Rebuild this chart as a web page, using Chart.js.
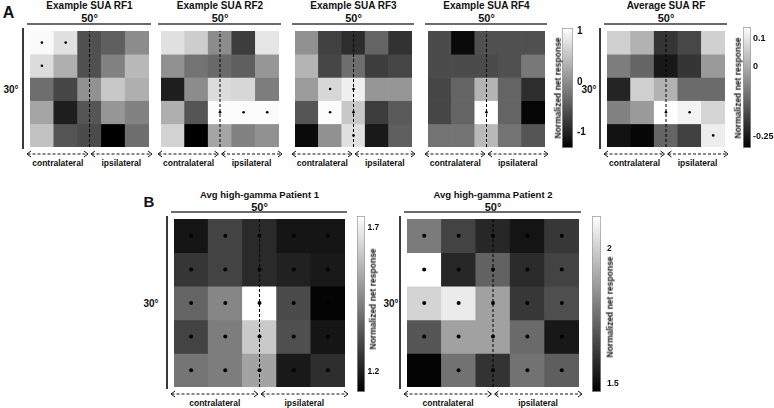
<!DOCTYPE html>
<html><head><meta charset="utf-8">
<script src="https://cdn.jsdelivr.net/npm/chart.js@4.4.0/dist/chart.umd.min.js"></script>
<style>
html,body{margin:0;padding:0;background:#fff;}
#root{position:relative;width:774px;height:408px;overflow:hidden;font-family:"Liberation Sans",Arial,sans-serif;font-weight:bold;color:#111;}
#root canvas{position:absolute;}
.t{position:absolute;white-space:nowrap;transform:translate(-50%,-50%);line-height:1;}
.r{transform:translate(-50%,-50%) rotate(-90deg);}
#deco{position:absolute;left:0;top:0;}
</style></head><body><div id="root"><svg id="deco" width="774" height="408"></svg></div>
<script>
// ---------- data ----------
const columns = ['c1', 'c2', 'c3', 'c4', 'c5'];

const rf1Values = [
  [1.01, 0.78, -0.56, -0.42, 0.00],
  [0.74, 0.32, -0.56, -0.10, 0.41],
  [-0.28, -0.65, 0.04, 0.55, 0.32],
  [0.23, -1.02, -0.51, 0.09, -0.10],
  [0.50, -0.51, -0.61, -1.30, -0.28]
];
const rf2Values = [
  [0.78, 0.60, 0.00, -0.74, 0.83],
  [0.04, -0.24, -0.33, -0.42, 0.09],
  [-1.02, 0.00, 0.74, 0.69, -0.14],
  [0.32, -0.51, 1.03, 1.03, 1.03],
  [0.64, -1.30, 0.23, -0.10, 0.04]
];
const rf3Values = [
  [0.04, -0.70, -0.88, -0.37, -0.84],
  [0.37, -0.65, -0.28, -0.74, -0.65],
  [0.13, 0.69, 0.92, 0.09, 0.09],
  [-0.51, 1.03, 0.55, -0.74, -0.47],
  [-1.21, 0.04, 0.78, -1.07, -0.42]
];
const rf4Values = [
  [-0.61, -1.21, -0.56, -0.56, -0.56],
  [-0.61, -0.61, -0.61, -0.56, -0.19],
  [-0.65, -0.37, 0.37, -0.37, -0.88],
  [-0.65, -0.37, 1.06, -0.37, -1.25],
  [-0.24, -0.24, 0.41, -0.24, -0.51]
];
const avgValues = [
  [0.06, 0.01, -0.20, -0.17, 0.06],
  [-0.08, -0.12, -0.25, -0.20, -0.03],
  [-0.23, 0.06, 0.01, -0.11, -0.11],
  [-0.07, -0.03, 0.14, 0.12, 0.07],
  [-0.26, -0.28, -0.12, -0.18, 0.11]
];
const p1Values = [
  [1.18, 1.29, 1.23, 1.18, 1.18],
  [1.26, 1.29, 1.23, 1.21, 1.19],
  [1.37, 1.45, 1.74, 1.31, 1.14],
  [1.29, 1.43, 1.61, 1.32, 1.18],
  [1.41, 1.43, 1.52, 1.19, 1.24]
];
const p2Values = [
  [1.78, 1.64, 1.57, 1.52, 1.61],
  [2.12, 1.57, 1.72, 1.58, 1.64],
  [2.01, 2.07, 1.88, 1.61, 1.67],
  [1.69, 1.88, 1.88, 1.74, 1.53],
  [1.48, 1.76, 1.60, 1.76, 1.71]
];

// significance dots (1 = dot in that cell)
const rf1Dots = [[1,1,0,0,0],[1,0,0,0,0],[0,0,0,0,0],[0,0,0,0,0],[0,0,0,0,0]];
const rf2Dots = [[0,0,0,0,0],[0,0,0,0,0],[0,0,0,0,0],[0,0,1,1,1],[0,0,0,0,0]];
const rf3Dots = [[0,0,0,0,0],[0,0,0,0,0],[0,1,1,0,0],[0,1,1,0,0],[0,0,1,0,0]];
const rf4Dots = [[0,0,0,0,0],[0,0,0,0,0],[0,0,0,0,0],[0,0,1,0,0],[0,0,0,0,0]];
const avgDots = [[0,0,0,0,0],[0,0,0,0,0],[0,0,0,0,0],[0,0,1,1,0],[0,0,0,0,1]];
const p1Dots = [[1,1,1,1,1],[1,1,1,1,1],[1,1,1,1,1],[1,1,1,1,1],[1,1,1,1,1]];
const p2Dots = [[1,1,1,1,1],[1,1,1,1,1],[1,1,1,1,1],[1,1,1,1,1],[0,1,1,1,1]];

// colour ranges and colorbar ticks
const rfRange = [-1.30, 1.06];
const rfTicks = [1, 0, -1];
const rfTickLabels = ['1', '0', '-1'];
const avgRange = [-0.29, 0.14];
const avgTicks = [0.1, 0, -0.25];
const avgTickLabels = ['0.1', '0', '-0.25'];
const p1Range = [1.13, 1.74];
const p1Ticks = [1.7, 1.2];
const p1TickLabels = ['1.7', '1.2'];
const p2Range = [1.47, 2.12];
const p2Ticks = [2, 1.5];
const p2TickLabels = ['2', '1.5'];

const titles = ['Example SUA RF1', 'Example SUA RF2', 'Example SUA RF3', 'Example SUA RF4', 'Average SUA RF',
                'Avg high-gamma Patient 1', 'Avg high-gamma Patient 2'];
const widthLabel = '50°';
const heightLabel = '30°';
const sideLabels = ['contralateral', 'ipsilateral'];
const cbarLabel = 'Normalized net response';

// ---------- layout ----------
const FONT = '"Liberation Sans", Arial, sans-serif';
const root = document.getElementById('root');
const svg = document.getElementById('deco');
const NS = 'http://www.w3.org/2000/svg';

function text(str, x, y, size, rotate) {
  const d = document.createElement('div');
  d.className = 't' + (rotate ? ' r' : '');
  d.textContent = str;
  d.style.left = x + 'px'; d.style.top = y + 'px'; d.style.fontSize = size + 'px';
  root.appendChild(d);
}
function svgLine(x1, y1, x2, y2, color, w, dash) {
  const l = document.createElementNS(NS, 'line');
  l.setAttribute('x1', x1); l.setAttribute('y1', y1); l.setAttribute('x2', x2); l.setAttribute('y2', y2);
  l.setAttribute('stroke', color); l.setAttribute('stroke-width', w);
  if (dash) l.setAttribute('stroke-dasharray', dash);
  svg.appendChild(l);
}
function svgPath(d, color, w) {
  const p = document.createElementNS(NS, 'path');
  p.setAttribute('d', d); p.setAttribute('fill', 'none'); p.setAttribute('stroke', color); p.setAttribute('stroke-width', w);
  svg.appendChild(p);
}
function arrow(x0, x1, y) {
  svgLine(x0 + 0.5, y, x1 - 0.5, y, '#111', 1, '3,2');
  svgPath(`M${x0 + 4},${y - 3} L${x0},${y} L${x0 + 4},${y + 3}`, '#111', 1);
  svgPath(`M${x1 - 4},${y - 3} L${x1},${y} L${x1 - 4},${y + 3}`, '#111', 1);
}

function gray(range) {
  const [lo, hi] = range;
  return v => {
    let g = Math.round(255 * (v - lo) / (hi - lo));
    g = Math.max(0, Math.min(255, g));
    return `rgb(${g},${g},${g})`;
  };
}

function heatmap(p) {
  const cv = document.createElement('canvas');
  cv.width = p.w; cv.height = p.h;
  cv.style.left = p.x + 'px'; cv.style.top = p.y + 'px';
  root.appendChild(cv);
  const n = p.values.length;
  const col = gray(p.range);
  const datasets = p.values.map((row, r) => ({
    type: 'bar',
    data: row.map(() => [n - 1 - r, n - r]),
    backgroundColor: row.map(col),
    borderWidth: 0, grouped: false, barPercentage: 1, categoryPercentage: 1, order: 3
  }));
  const mid = columns[Math.floor(columns.length / 2)];
  datasets.push({
    type: 'line', data: [{x: mid, y: 0}, {x: mid, y: n}],
    borderColor: '#000', borderWidth: 1, borderDash: [3, 2], pointRadius: 0, order: 1
  });
  const pts = [];
  p.dots.forEach((row, r) => row.forEach((on, c) => { if (on) pts.push({x: columns[c], y: n - 1 - r + 0.5}); }));
  datasets.push({
    type: 'scatter', data: pts, pointRadius: p.dotR, pointBackgroundColor: '#000',
    pointBorderWidth: 0, order: 0
  });
  new Chart(cv, {
    type: 'bar',
    data: {labels: columns, datasets},
    options: {
      responsive: false, animation: false, events: [],
      layout: {padding: 0},
      plugins: {legend: {display: false}, tooltip: {enabled: false}},
      scales: {x: {display: false}, y: {display: false, min: 0, max: n}}
    }
  });

  // decorations
  const L = p.x, R = p.x + p.w, T = p.y, B = p.y + p.h, C = (L + R) / 2;
  text(p.title, C, T - p.titleOff, p.titleSize);
  text(widthLabel, C, T - p.degOff, 11);
  svgLine(L + 1, T - 3, R - 2, T - 3, '#3a3a3a', 1.5);
  if (p.left) {
    svgLine(L - 3, T + 1, L - 3, B - 2, '#3a3a3a', 2);
    text(heightLabel, p.left, (T + B) / 2 + 1, 10);
  }
  arrow(L + 1, C - 1.5, B + 3);
  arrow(C + 1.5, R - 1, B + 3);
  text(sideLabels[0], (L + C) / 2, B + p.labOff, 8.5);
  text(sideLabels[1], (C + R) / 2, B + p.labOff, 8.5);
}

function colorbar(c) {
  const padV = 12, padL = 2;
  const cv = document.createElement('canvas');
  cv.width = padL + c.w + c.axisW; cv.height = c.h + 2 * padV;
  cv.style.left = (c.x - padL) + 'px'; cv.style.top = (c.y - padV) + 'px';
  root.appendChild(cv);
  new Chart(cv, {
    type: 'bar',
    data: {labels: ['cb'], datasets: [{
      data: [[c.range[0], c.range[1]]],
      backgroundColor: ctx => {
        const a = ctx.chart.chartArea;
        if (!a) return '#888';
        const g = ctx.chart.ctx.createLinearGradient(0, a.bottom, 0, a.top);
        g.addColorStop(0, '#000'); g.addColorStop(1, '#fff');
        return g;
      },
      borderColor: '#9a9a9a', borderWidth: 1, borderSkipped: false,
      barPercentage: 1, categoryPercentage: 1
    }]},
    options: {
      responsive: false, animation: false, events: [],
      layout: {padding: {top: padV, bottom: padV, left: padL, right: 0}},
      plugins: {legend: {display: false}, tooltip: {enabled: false}},
      scales: {
        x: {display: false},
        y: {
          position: 'right', min: c.range[0], max: c.range[1],
          grid: {display: false, drawTicks: false}, border: {display: false},
          afterBuildTicks: s => { s.ticks = c.ticks.map(v => ({value: v})); },
          afterFit: s => { s.width = c.axisW; },
          ticks: {
            padding: c.pad, color: '#111',
            font: {family: FONT, weight: 'bold', size: c.font},
            callback: v => c.labels[c.ticks.indexOf(v)]
          }
        }
      }
    }
  });
  text(cbarLabel, c.labX, c.labY, 8.5, true);
}

// panels
heatmap({title: titles[0], values: rf1Values, dots: rf1Dots, range: rfRange, x: 26, y: 27, w: 127, h: 124, dotR: 1.3, titleOff: 21.5, titleSize: 10, degOff: 9, labOff: 12, left: 11});
heatmap({title: titles[1], values: rf2Values, dots: rf2Dots, range: rfRange, x: 157, y: 27, w: 126, h: 124, dotR: 1.3, titleOff: 21.5, titleSize: 10, degOff: 9, labOff: 12});
heatmap({title: titles[2], values: rf3Values, dots: rf3Dots, range: rfRange, x: 291, y: 27, w: 125, h: 124, dotR: 1.3, titleOff: 21.5, titleSize: 10, degOff: 9, labOff: 12});
heatmap({title: titles[3], values: rf4Values, dots: rf4Dots, range: rfRange, x: 424, y: 27, w: 125, h: 124, dotR: 1.3, titleOff: 21.5, titleSize: 10, degOff: 9, labOff: 12});
heatmap({title: titles[4], values: avgValues, dots: avgDots, range: avgRange, x: 603, y: 27, w: 126, h: 124, dotR: 1.3, titleOff: 21.5, titleSize: 10, degOff: 9, labOff: 12, left: 589});
heatmap({title: titles[5], values: p1Values, dots: p1Dots, range: p1Range, x: 170, y: 215, w: 179, h: 176, dotR: 2, titleOff: 20, titleSize: 9.5, degOff: 8, labOff: 12, left: 151});
heatmap({title: titles[6], values: p2Values, dots: p2Dots, range: p2Range, x: 403, y: 215, w: 180, h: 176, dotR: 2, titleOff: 20, titleSize: 9.5, degOff: 8, labOff: 12, left: 391});

colorbar({range: rfRange, ticks: rfTicks, labels: rfTickLabels, x: 562, y: 28, w: 11, h: 120, axisW: 20, pad: 4, font: 10, labX: 557.5, labY: 88});
colorbar({range: avgRange, ticks: avgTicks, labels: avgTickLabels, x: 743, y: 27, w: 8, h: 121, axisW: 30, pad: 2, font: 9, labX: 737.5, labY: 88});
colorbar({range: p1Range, ticks: p1Ticks, labels: p1TickLabels, x: 357, y: 216, w: 8, h: 176, axisW: 24, pad: 2.5, font: 8.5, labX: 372.5, labY: 299});
colorbar({range: p2Range, ticks: p2Ticks, labels: p2TickLabels, x: 592, y: 216, w: 9, h: 176, axisW: 26, pad: 6, font: 8.5, labX: 609.5, labY: 307});

text('A', 8.5, 12.5, 16);
text('B', 149, 201, 15);
</script>
</body></html>
